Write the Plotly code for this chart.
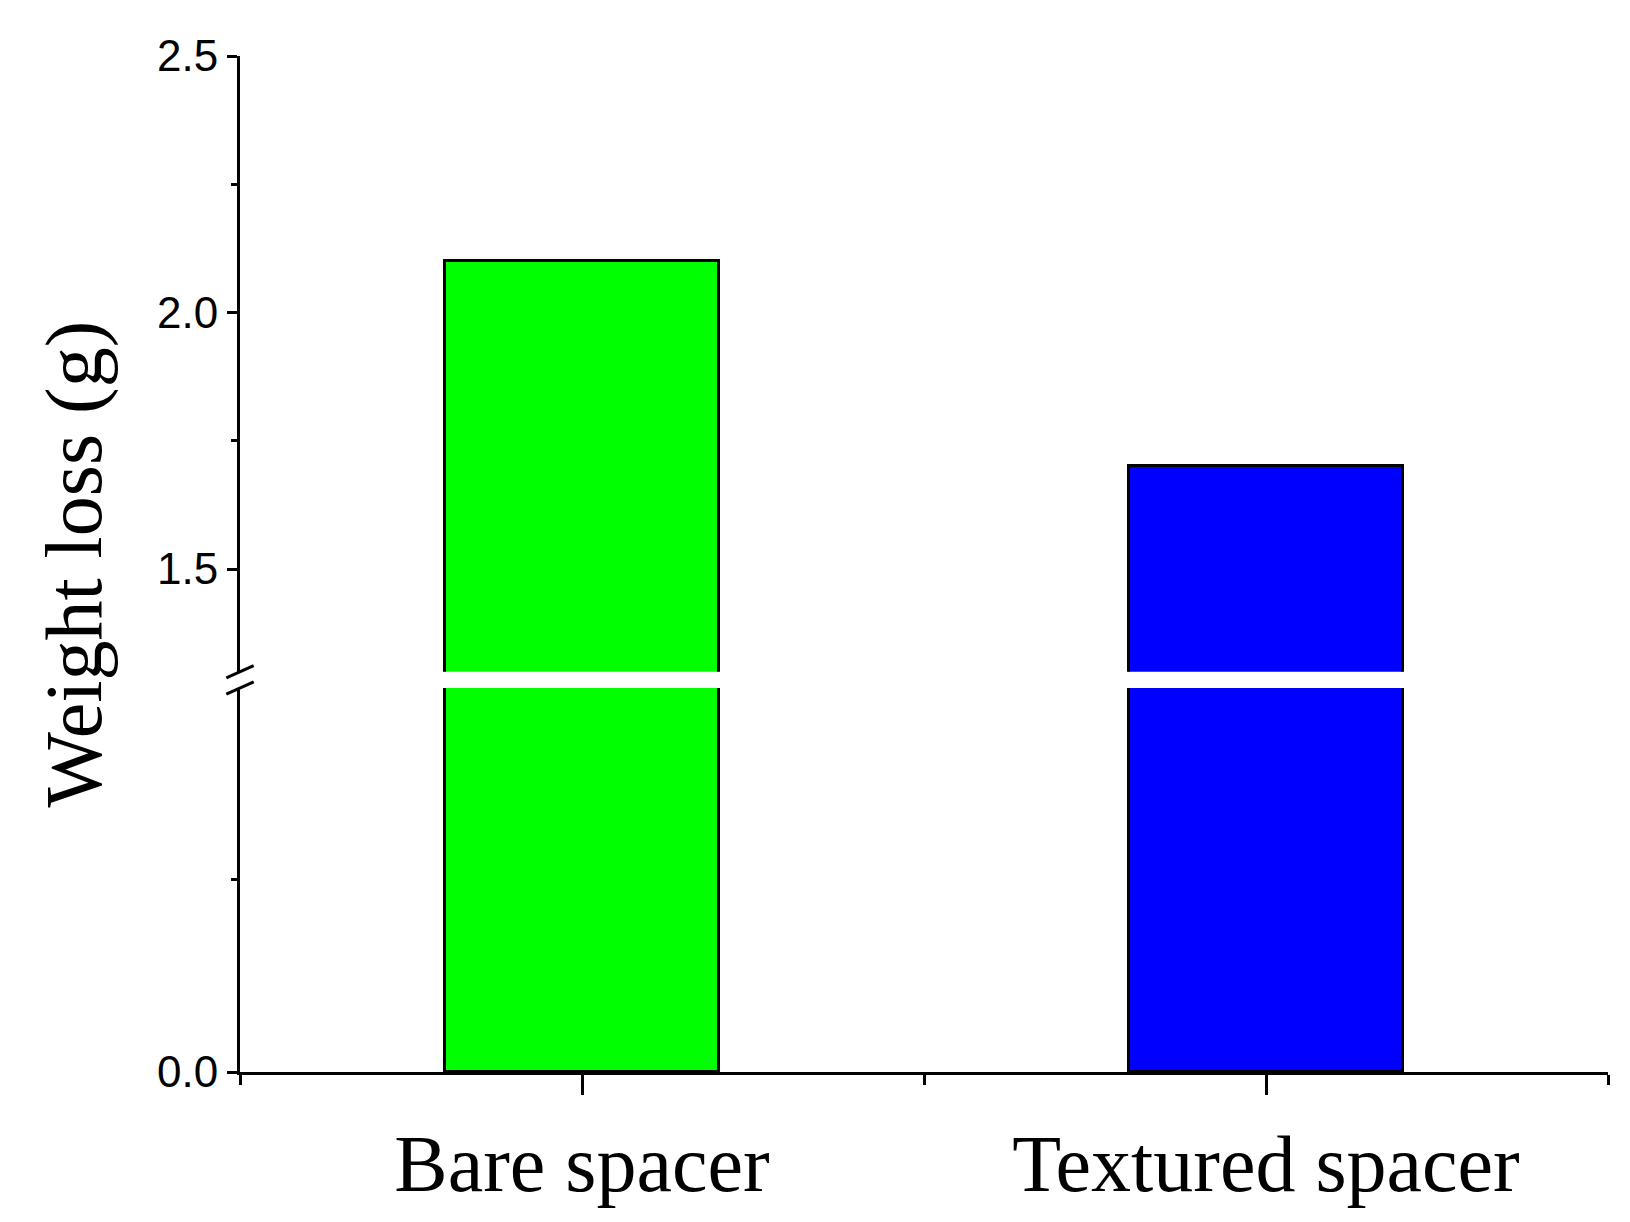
import plotly.graph_objects as go

categories = ["Bare spacer", "Textured spacer"]
values = [2.1, 1.7]
colors = ["#00ff00", "#0000ff"]
xpos = [0, 1]

fig = go.Figure()
for ax in ["y", "y2"]:
    fig.add_trace(go.Bar(x=xpos, y=values, width=0.4, marker=dict(color=colors, line=dict(color="black", width=3)),
                         yaxis=ax, showlegend=False))

fig.update_layout(
    width=1630, height=1222, plot_bgcolor="white", paper_bgcolor="white",
    margin=dict(l=232, r=30, t=48, b=158), bargap=0,
    xaxis=dict(range=[-0.5, 1.5], tickvals=xpos, ticktext=categories, showline=True, linecolor="black", linewidth=3,
               ticks="outside", ticklen=20, tickwidth=3, tickcolor="black",
               minor=dict(tickvals=[-0.5, 0.5, 1.5], ticks="outside", ticklen=10, tickwidth=3, tickcolor="black"),
               tickfont=dict(family="Liberation Serif", size=80, color="black"), showgrid=False, zeroline=False),
    yaxis=dict(domain=[0, 0.378], range=[0, 1.0], tickvals=[0], ticktext=["0.0"], showline=True, linecolor="black",
               linewidth=3, ticks="outside", ticklen=10, tickwidth=3, tickcolor="black",
               minor=dict(tickvals=[0.5], ticks="outside", ticklen=6, tickwidth=3, tickcolor="black"),
               tickfont=dict(family="Liberation Sans", size=44, color="black"), showgrid=False, zeroline=False),
    yaxis2=dict(domain=[0.394, 1], range=[1.3, 2.5], tickvals=[1.5, 2.0, 2.5], ticktext=["1.5", "2.0", "2.5"],
                showline=True, linecolor="black", linewidth=3, ticks="outside", ticklen=10, tickwidth=3, tickcolor="black",
                minor=dict(tickvals=[1.75, 2.25], ticks="outside", ticklen=6, tickwidth=3, tickcolor="black"),
                tickfont=dict(family="Liberation Sans", size=44, color="black"), showgrid=False, zeroline=False),
)
# break marks
for yc in [0.378, 0.394]:
    fig.add_shape(type="line", xref="paper", yref="paper", x0=-0.01, x1=0.01, y0=yc - 0.006, y1=yc + 0.006,
                  line=dict(color="black", width=3))
fig.add_annotation(text="Weight loss (g)", xref="paper", yref="paper", x=-0.155, y=0.5, textangle=-90,
                   showarrow=False, font=dict(family="Liberation Serif", size=80, color="black"))
fig.write_html("out.html")
